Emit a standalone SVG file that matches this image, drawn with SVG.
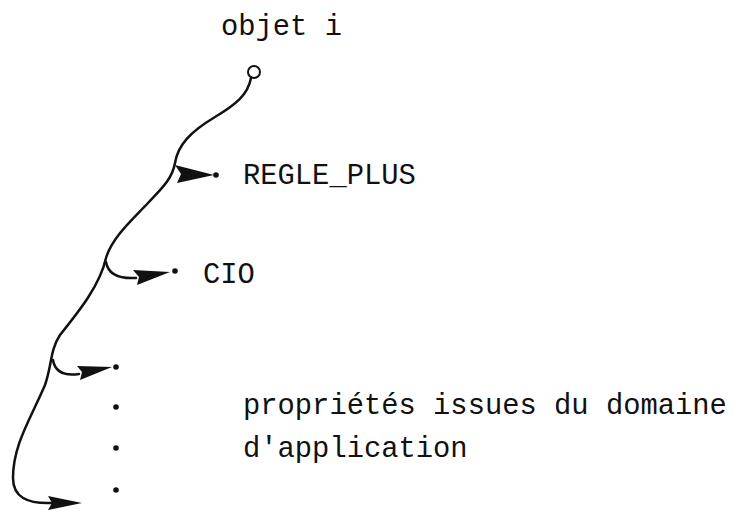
<svg xmlns="http://www.w3.org/2000/svg" width="751" height="515" viewBox="0 0 751 515">
<style>
.t{font-family:"Liberation Mono","DejaVu Sans Mono",monospace;font-size:28.8px;fill:#111}
.l{fill:none;stroke:#111;stroke-width:2.5;stroke-linecap:round}
.h{fill:#111;stroke:none}
.d{fill:#111}
</style>
<rect width="751" height="515" fill="#fff"/>
<g id="connectors">
<path class="l" d="M251,78 C248,95 235,105 215,117 C190,132 178,145 175,163 C172,180 160,190 148,203 C130,222 112,238 106,258 C100,285 80,310 60,335 C50,350 52,365 45,385 C30,420 13,445 13,478 C13,497 27,504 52,503"/>
<path class="h" d="M175,165 L214,175 L177,183 L181,174 Z"/>
<path class="l" d="M106,262 C108,274 118,279 136,278"/>
<path class="h" d="M133,270 L170,272 L137,285 L139,277 Z"/>
<path class="l" d="M53,360 C55,372 65,376 79,374"/>
<path class="h" d="M77,366 L112,367 L80,380 L82,372 Z"/>
<path class="h" d="M48,496 L82,503 L48,510 L52,503 Z"/>
</g>
<g id="root"><circle cx="254" cy="72" r="6" fill="#fff" stroke="#111" stroke-width="2"/><text class="t" x="221" y="35">objet i</text></g>
<g id="regle"><circle class="d" cx="216" cy="175" r="2.8"/><text class="t" x="243" y="184">REGLE_PLUS</text></g>
<g id="cio"><circle class="d" cx="175" cy="271" r="2.8"/><text class="t" x="203" y="283">CIO</text></g>
<g id="dot3"><circle class="d" cx="116" cy="367" r="2.8"/></g>
<g id="props"><circle class="d" cx="116" cy="407" r="2.8"/><circle class="d" cx="116" cy="448" r="2.8"/><text class="t" x="243" y="414">propriétés issues du domaine</text><text class="t" x="243" y="457">d'application</text></g>
<g id="dot4"><circle class="d" cx="116" cy="490" r="2.8"/></g>
</svg>
